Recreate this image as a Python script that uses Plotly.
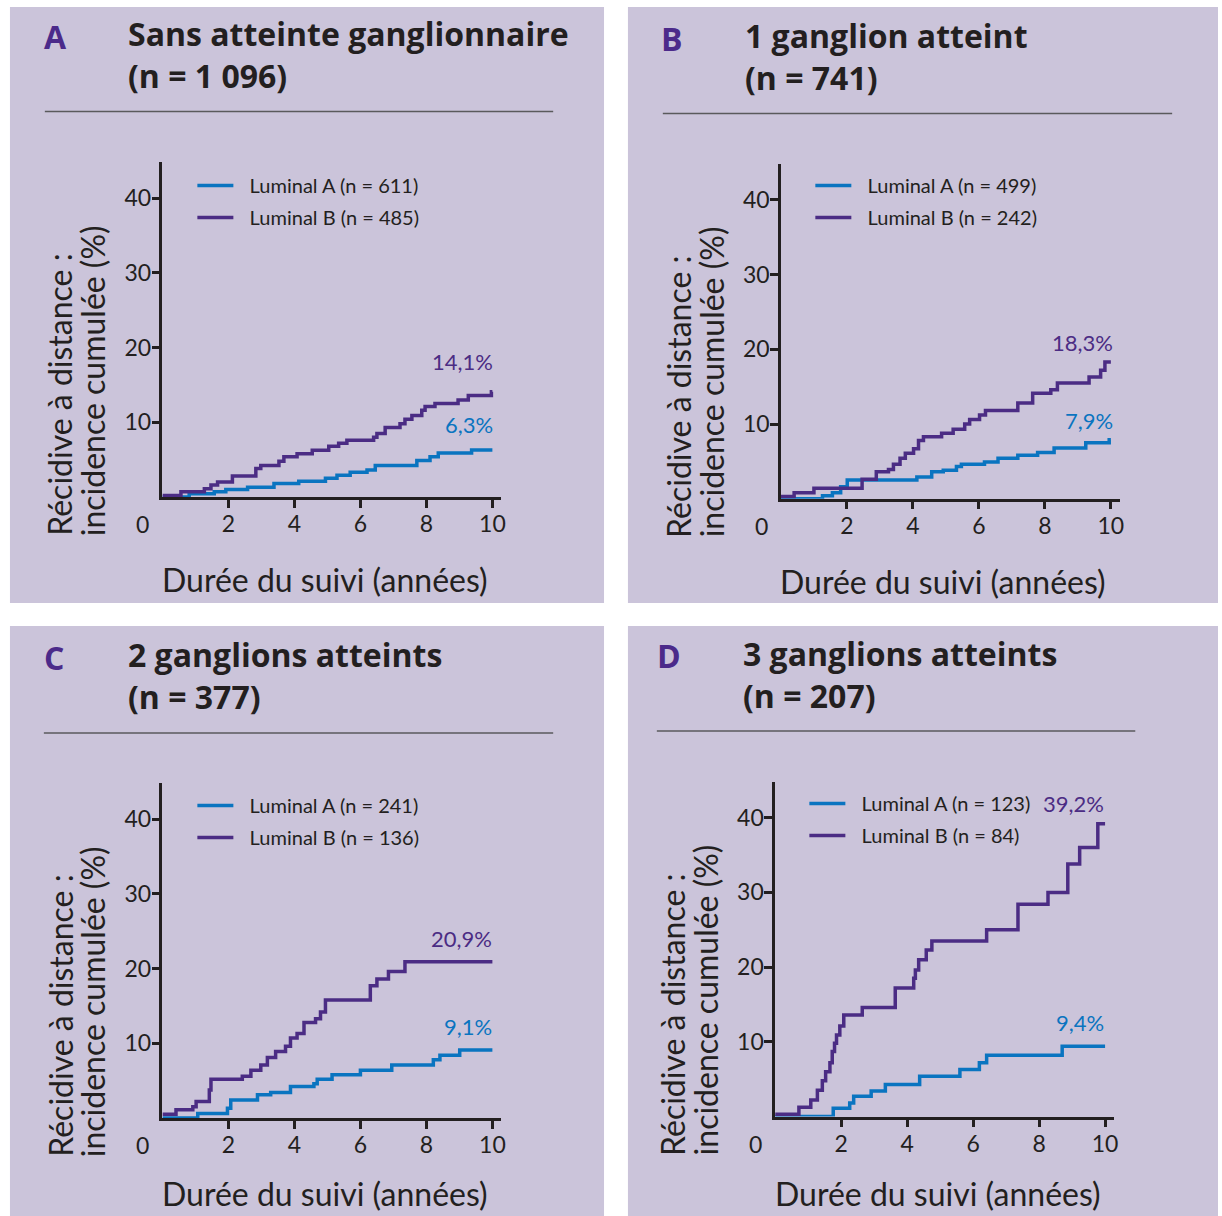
import plotly.graph_objects as go

# ---------------- data ----------------
panel_letters = ["A", "B", "C", "D"]
panel_titles = ["Sans atteinte ganglionnaire", "1 ganglion atteint", "2 ganglions atteints", "3 ganglions atteints"]
panel_n = ["1 096", "741", "377", "207"]
series_names = ["Luminal A", "Luminal B"]
lumA_n = [611, 499, 241, 123]
lumB_n = [485, 242, 136, 84]

x_ticks = [2, 4, 6, 8, 10]
y_ticks = [10, 20, 30, 40]

# Panel A
A_lumA_t = [0, 0.81, 1.57, 1.92, 2.58, 3.38, 4.13, 4.94, 5.29, 5.69, 6.2, 6.45, 7.71, 8.11, 8.36, 9.37, 10.0]
A_lumA_v = [0, 0.45, 0.7, 1.0, 1.3, 1.8, 2.1, 2.5, 2.9, 3.3, 3.6, 4.2, 4.9, 5.4, 5.9, 6.3, 6.3]
A_lumB_t = [0, 0.56, 1.27, 1.47, 1.67, 2.12, 2.83, 2.98, 3.53, 3.68, 4.08, 4.54, 5.04, 5.34, 5.59, 6.4, 6.5, 6.75,
            7.2, 7.35, 7.56, 7.86, 7.96, 8.26, 8.96, 9.27, 9.97, 10.0]
A_lumB_v = [0.2, 0.7, 1.1, 1.6, 2.0, 2.8, 3.8, 4.2, 4.8, 5.4, 5.8, 6.25, 6.8, 7.2, 7.6, 8.0, 8.5, 9.3,
            9.8, 10.4, 10.9, 11.6, 12.1, 12.5, 13.0, 13.6, 14.1, 14.1]

# Panel B
B_lumA_t = [0, 1.26, 1.56, 1.81, 2.01, 4.12, 4.57, 4.92, 5.32, 5.47, 6.17, 6.58, 7.18, 7.78, 8.28, 9.24, 9.95, 10.0]
B_lumA_v = [0, 0.4, 0.8, 1.6, 2.5, 2.9, 3.6, 3.8, 4.3, 4.6, 4.9, 5.4, 5.8, 6.2, 6.8, 7.5, 7.9, 7.9]
B_lumB_t = [0, 0.4, 1.0, 2.46, 2.89, 3.26, 3.41, 3.61, 3.77, 4.02, 4.17, 4.32, 4.87, 5.22, 5.57, 5.72, 6.02, 6.2,
            7.18, 7.63, 8.18, 8.38, 9.34, 9.69, 9.82, 10.0]
B_lumB_v = [0.3, 0.8, 1.4, 2.6, 3.6, 3.9, 4.6, 5.4, 6.1, 6.7, 7.8, 8.3, 8.75, 9.3, 10.0, 10.6, 11.2, 11.8,
            12.8, 14.1, 14.6, 15.5, 16.3, 17.2, 18.3, 18.3]

# Panel C
C_lumA_t = [0, 1.07, 1.97, 2.07, 2.88, 3.28, 3.88, 4.59, 4.69, 5.14, 6.0, 6.95, 8.21, 8.41, 9.01, 10.0]
C_lumA_v = [0, 0.6, 1.3, 2.4, 3.1, 3.4, 4.2, 4.6, 5.2, 5.8, 6.4, 7.1, 7.8, 8.4, 9.1, 9.1]
C_lumB_t = [0, 0.41, 0.92, 1.02, 1.42, 1.47, 2.42, 2.68, 2.98, 3.18, 3.43, 3.73, 3.88, 4.08, 4.29, 4.64, 4.79, 4.94,
            6.3, 6.5, 6.85, 7.35, 10.0]
C_lumB_v = [0.5, 1.1, 1.5, 2.2, 3.75, 5.2, 5.6, 6.4, 7.1, 8.1, 8.9, 9.6, 10.7, 11.3, 12.8, 13.3, 14.2, 15.8,
            17.7, 18.6, 19.6, 20.9, 20.9]

# Panel D
D_lumA_t = [0, 1.76, 2.26, 2.38, 2.91, 3.34, 4.38, 5.6, 6.19, 6.41, 8.7, 10.0]
D_lumA_v = [0, 1.1, 1.8, 2.7, 3.4, 4.3, 5.4, 6.3, 7.2, 8.2, 9.4, 9.4]
D_lumB_t = [0, 0.72, 1.08, 1.28, 1.43, 1.53, 1.66, 1.73, 1.8, 1.86, 1.96, 2.08, 2.64, 3.64, 4.2, 4.25, 4.35, 4.58,
            4.75, 6.41, 7.36, 8.27, 8.87, 9.23, 9.78, 10.0]
D_lumB_v = [0.3, 1.25, 2.2, 3.5, 4.8, 6.0, 7.2, 8.7, 9.8, 10.9, 12.1, 13.6, 14.6, 17.2, 18.5, 19.6, 21.0, 22.3,
            23.5, 25.0, 28.4, 30.0, 33.8, 36.0, 39.2, 39.2]

lumA_t = [A_lumA_t, B_lumA_t, C_lumA_t, D_lumA_t]
lumA_v = [A_lumA_v, B_lumA_v, C_lumA_v, D_lumA_v]
lumB_t = [A_lumB_t, B_lumB_t, C_lumB_t, D_lumB_t]
lumB_v = [A_lumB_v, B_lumB_v, C_lumB_v, D_lumB_v]

x_title = "Durée du suivi (années)"
y_title_lines = ["Récidive à distance :", "incidence cumulée (%)"]

# ---------------- style / layout ----------------
W, H = 1222, 1216
BG = "#CBC4DA"
BLUE = "#0A74C0"
PURPLE = "#4B2C84"
INK = "#231F20"
FONT = "Lato"
TFONT = "Open Sans"


def px(x):
    return x / W


def py(y):
    return 1 - y / H


# panel background rectangles (page px)
panel_rects = [(10, 7, 606, 603), (630, 7, 1222, 603), (10, 626, 606, 1216), (630, 626, 1222, 1216)]
# axis origin (page px)
origins = [(163, 497), (783.5, 498.7), (163, 1118), (777.7, 1116.5)]
PX_YR, PX_PCT = 33.1, 7.47
XMAX, YMAX = 10.27, 44.8

letter_pos = [(56, 37), (674, 38), (54, 657), (671, 655)]
title_x = [126, 745, 126, 743]
title_yc = [54.5, 56.5, 675.5, 674]
sep_lines = [(45, 555, 111.5), (665, 1176, 113.5), (44, 555, 733), (659, 1139, 731)]
legend_pos = [(193, 166), (813, 166), (193, 786), (807, 784)]
lab_B_pos = [(497, 361), (1119, 342), (496, 938), (1110, 803)]
lab_A_pos = [(497, 425), (1119, 420), (496, 1026), (1110, 1022)]
xtitle_y = [579, 581, 1193, 1193]

fig = go.Figure()
shapes = []
annotations = []


def ann(text, x, y, size, color=INK, family=FONT, xanchor="center", yanchor="middle", **kw):
    annotations.append(dict(text=text, x=px(x), y=py(y), xref="paper", yref="paper", showarrow=False,
                            xanchor=xanchor, yanchor=yanchor,
                            font=dict(family=family, size=size, color=color), **kw))


fmt = lambda v: f"{v:.1f}".replace(".", ",") + "%"
GAP = "\u2002\u200a"

for i in range(4):
    sfx = "" if i == 0 else str(i + 1)
    ox, oy = origins[i]
    axis_common = dict(ticks="outside", ticklen=8, tickwidth=2.5, tickcolor=INK,
                       showline=True, linecolor=INK, linewidth=2.5, showgrid=False, zeroline=False,
                       tickfont=dict(family=FONT, size=23, color=INK), fixedrange=True)
    fig.update_layout(**{
        f"xaxis{sfx}": dict(domain=[px(ox), px(ox + XMAX * PX_YR)], range=[0, XMAX], anchor=f"y{sfx}",
                            tickvals=x_ticks, ticklabelstandoff=-3, **axis_common),
        f"yaxis{sfx}": dict(domain=[py(oy), py(oy - YMAX * PX_PCT)], range=[0, YMAX], anchor=f"x{sfx}",
                            tickvals=y_ticks, ticklabelstandoff=-4, **axis_common),
    })
    leg = "legend" if i == 0 else f"legend{i + 1}"
    fig.add_trace(go.Scatter(
        x=lumA_t[i], y=lumA_v[i], mode="lines", line=dict(color=BLUE, width=3.5, shape="hv"),
        name=f"{GAP}{series_names[0]} (n = {lumA_n[i]})", xaxis=f"x{sfx}", yaxis=f"y{sfx}",
        legend=leg, legendgroup=f"a{i}", hoverinfo="x+y",
    ))
    fig.add_trace(go.Scatter(
        x=lumB_t[i], y=lumB_v[i], mode="lines", line=dict(color=PURPLE, width=3.5, shape="hv"),
        name=f"{GAP}{series_names[1]} (n = {lumB_n[i]})", xaxis=f"x{sfx}", yaxis=f"y{sfx}",
        legend=leg, legendgroup=f"b{i}", hoverinfo="x+y",
    ))
    lx, ly = legend_pos[i]
    fig.update_layout(**{leg: dict(
        x=px(lx), y=py(ly), xanchor="left", yanchor="top", bgcolor="rgba(0,0,0,0)",
        borderwidth=0, font=dict(family=FONT, size=20, color=INK), tracegroupgap=3,
        traceorder="grouped", itemwidth=36,
    )})

    # background panel
    x0, y0, x1, y1 = panel_rects[i]
    shapes.append(dict(type="rect", xref="paper", yref="paper", x0=px(x0), x1=px(x1), y0=py(y1), y1=py(y0),
                       fillcolor=BG, line=dict(width=0), layer="below"))
    # separator line
    sx0, sx1, sy = sep_lines[i]
    shapes.append(dict(type="line", xref="paper", yref="paper", x0=px(sx0), x1=px(sx1), y0=py(sy), y1=py(sy),
                       line=dict(color="#5A5A5C", width=1.5)))

    # panel letter and title
    ann(f"<b>{panel_letters[i]}</b>", letter_pos[i][0], letter_pos[i][1], 32, color="#4B2A8A", family=TFONT)
    ann(f"<b>{panel_titles[i]}<br>(n = {panel_n[i]})</b>", title_x[i], title_yc[i], 32, family=TFONT,
        xanchor="left", align="left")
    # origin 0 label
    ann("0", ox - 20, oy + 27, 23)
    # x title
    ann(x_title, ox + 163, xtitle_y[i], 32)
    # y title (two lines, start-aligned)
    ann(y_title_lines[0], ox - 103, oy + 41, 32, yanchor="bottom", textangle=-90)
    ann(y_title_lines[1], ox - 70, oy + 41, 32, yanchor="bottom", textangle=-90)
    # end-value labels
    ann(fmt(lumB_v[i][-1]), lab_B_pos[i][0], lab_B_pos[i][1], 22, color=PURPLE, xanchor="right")
    ann(fmt(lumA_v[i][-1]), lab_A_pos[i][0], lab_A_pos[i][1], 22, color=BLUE, xanchor="right")

fig.update_layout(
    width=W, height=H, margin=dict(l=0, r=0, t=0, b=0),
    paper_bgcolor="white", plot_bgcolor="rgba(0,0,0,0)",
    shapes=shapes, annotations=annotations, showlegend=True,
    font=dict(family=FONT, color=INK),
)

fig.write_html("out.html", config={"displayModeBar": False},
               post_script="document.documentElement.style.margin='0px';document.body.style.margin='0px';"
                           "document.documentElement.style.overflow='hidden';document.body.style.overflow='hidden';")
